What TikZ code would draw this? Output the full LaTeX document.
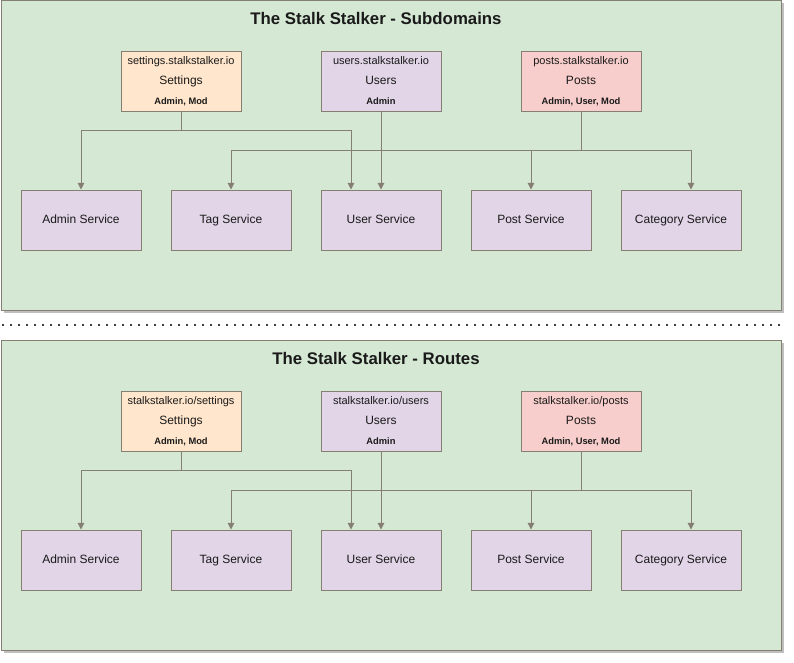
\documentclass[tikz,border=0pt]{standalone}
\usepackage{fontspec}
\setmainfont{Liberation Sans}
\usetikzlibrary{arrows.meta,calc,shadows}
\definecolor{cont}{HTML}{D5E8D4}
\definecolor{edgec}{HTML}{857F72}
\definecolor{orng}{HTML}{FFE6CC}
\definecolor{purp}{HTML}{E1D5E7}
\definecolor{pinkc}{HTML}{F8CECC}
\definecolor{txt}{HTML}{1A1A1A}
\tikzset{
  panel/.style={draw=edgec, fill=cont, line width=0.75pt, minimum width=585pt, minimum height=232.5pt, inner sep=0pt,
    drop shadow={shadow xshift=2.25pt, shadow yshift=-2.25pt, opacity=0.25, fill=black}},
  ptitle/.style={font=\fontsize{12.6}{15}\selectfont\bfseries, text=txt, inner sep=0pt, text height=9pt, text depth=2.5pt},
  topbox/.style={draw=edgec, line width=0.75pt, minimum width=90pt, minimum height=45pt, inner sep=0pt,
    font=\fontsize{9}{11}\selectfont, text=txt, text height=6.6pt, text depth=1.9pt},
  urltxt/.style={font=\fontsize{8.25}{10}\selectfont, text=txt, inner sep=0pt, text height=6pt, text depth=1.7pt},
  roletxt/.style={font=\fontsize{7}{8}\selectfont\bfseries, text=txt, inner sep=0pt, text height=5.1pt, text depth=1.4pt},
  svc/.style={draw=edgec, fill=purp, line width=0.75pt, minimum width=90pt, minimum height=45pt, inner sep=0pt,
    font=\fontsize{9}{11}\selectfont, text=txt, text height=6.6pt, text depth=1.9pt},
  conn/.style={draw=edgec, line width=0.75pt, -{Triangle[length=5pt,width=5pt]}},
  dotline/.style={draw=black!75, line width=1.5pt, dash pattern=on 1.5pt off 4.5pt}
}
\newcommand\stalkpanel[6]{%
  \begin{scope}[shift={(0,#2)}]
    \node[panel] (#1c) at (391,155) {};
    \node[ptitle] (#1t) at (376,20) {#3};
    \node[topbox, fill=orng] (#1s) at (181,81) {Settings};
    \node[urltxt] (#1su) at ($(#1s.north)+(0,11)$) {#4};
    \node[roletxt] (#1sr) at ($(#1s.south)+(0,-9.5)$) {Admin, Mod};
    \node[topbox, fill=purp] (#1u) at (381,81) {Users};
    \node[urltxt] (#1uu) at ($(#1u.north)+(0,11)$) {#5};
    \node[roletxt] (#1ur) at ($(#1u.south)+(0,-9.5)$) {Admin};
    \node[topbox, fill=pinkc] (#1p) at (581,81) {Posts};
    \node[urltxt] (#1pu) at ($(#1p.north)+(0,11)$) {#6};
    \node[roletxt] (#1pr) at ($(#1p.south)+(0,-9.5)$) {Admin, User, Mod};
    \node[svc] (#1ad) at (81,220) {Admin Service};
    \node[svc] (#1tg) at (231,220) {Tag Service};
    \node[svc] (#1us) at (381,220) {User Service};
    \node[svc] (#1po) at (531,220) {Post Service};
    \node[svc] (#1ca) at (681,220) {Category Service};
    \draw[conn] (#1s.south) -- ++(0,19) -| (#1ad.north);
    \draw[conn] (#1s.south) -- ++(0,19) -| ([xshift=-22.5pt]#1us.north);
    \draw[conn] (#1u.south) -- (#1us.north);
    \draw[conn] (#1p.south) -- ++(0,39) -| (#1tg.north);
    \draw[conn] (#1p.south) -- ++(0,39) -| (#1po.north);
    \draw[conn] (#1p.south) -- ++(0,39) -| ([xshift=7.5pt]#1ca.north);
  \end{scope}%
}
\begin{document}
\begin{tikzpicture}[x=0.75pt,y=-0.75pt]
  \path[fill=white] (0,0) rectangle (794,662);
  \useasboundingbox (0,0) rectangle (794,662);
  \stalkpanel{a}{0}{The Stalk Stalker - Subdomains}{settings.stalkstalker.io}{users.stalkstalker.io}{posts.stalkstalker.io}
  \coordinate (sepl) at (2,325);
  \coordinate (sepr) at (782,325);
  \draw[dotline] (sepl) -- (sepr);
  \stalkpanel{b}{340}{The Stalk Stalker - Routes}{stalkstalker.io/settings}{stalkstalker.io/users}{stalkstalker.io/posts}
\end{tikzpicture}
\end{document}
